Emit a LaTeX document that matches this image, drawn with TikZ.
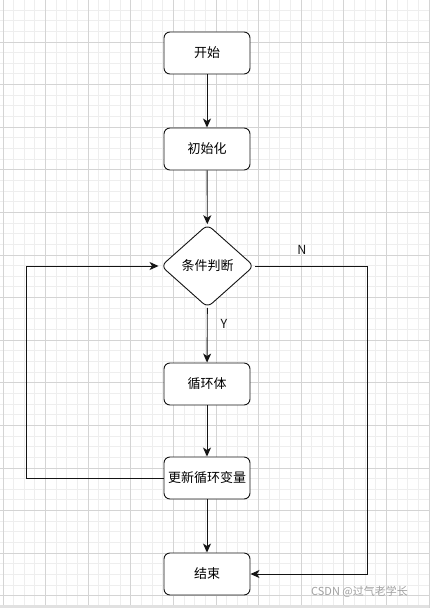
\documentclass[tikz,border=0pt]{standalone}
\usepackage{fontspec}
\setmainfont{Noto Sans CJK SC}
\usetikzlibrary{shapes.geometric,arrows.meta}
\definecolor{minorgrid}{RGB}{238,238,238}
\definecolor{majorgrid}{RGB}{212,212,212}
\definecolor{linecol}{RGB}{20,20,20}
\definecolor{wmcol}{RGB}{160,160,160}
\begin{document}
\begin{tikzpicture}[x=1pt,y=-1pt,
  box/.style={draw=linecol, line width=0.9pt, fill=white, rounded corners=6pt,
    minimum width=86pt, minimum height=42pt, inner sep=0pt,
    font=\fontsize{13}{13}\selectfont},
  decision/.style={diamond, draw=linecol, line width=0.9pt, fill=white, rounded corners=6pt,
    minimum width=93pt, minimum height=83pt, inner sep=0pt, aspect=1.13,
    font=\fontsize{13}{13}\selectfont},
  arr/.style={draw=linecol, line width=0.9pt, -{Stealth[length=9pt,width=8pt,inset=2.5pt]}},
  lbl/.style={font=\fontsize{12.5}{12.5}\selectfont, text=linecol},
  minorline/.style={draw=minorgrid, line width=1pt},
  majorline/.style={draw=majorgrid, line width=0.9pt}]
\useasboundingbox (0,0) rectangle (429,608);
\fill[white] (0,0) rectangle (429,608);
% grid
\foreach \i in {0,...,40} { \draw[minorline] ({3+10.65*\i},0) -- ({3+10.65*\i},608); }
\foreach \j in {0,...,58} { \draw[minorline] (0,{-0.6+10.65*\j}) -- (429,{-0.6+10.65*\j}); }
\foreach \i in {0,...,10} { \draw[majorline] ({3+42.6*\i},0) -- ({3+42.6*\i},608); }
\foreach \j in {0,...,14} { \draw[majorline] (0,{-0.6+42.6*\j}) -- (429,{-0.6+42.6*\j}); }
\fill[majorgrid!70] (0,605) rectangle (429,608);
% nodes
\node[box] (start) at (207,53) {开始};
\node[box] (init) at (207,149) {初始化};
\node[decision] (cond) at (207.5,266) {条件判断};
\node[box] (body) at (207,384) {循环体};
\node[box] (upd) at (207,478) {更新循环变量};
\node[box] (end) at (207,574) {结束};
\node[lbl] (ylab) at (224,324) {Y};
\node[lbl] (nlab) at (302,250) {N};
\coordinate (lb) at (26.5,478);
\coordinate (lt) at (26.5,266);
\coordinate (rt) at (367,266);
\coordinate (rb) at (367,574);
% connectors
\draw[arr] (start) -- (init);
\draw[arr] (init) -- (cond);
\draw[arr] (cond) -- (body);
\draw[arr] (body) -- (upd);
\draw[arr] (upd) -- (end);
\draw[arr] (upd.west) -- (lb) -- (lt) -- ([xshift=-2pt]cond.west);
\draw[arr] ([xshift=1pt]cond.east) -- (rt) -- (rb) -- (end.east);
% watermark
\node[anchor=west, font=\fontsize{11}{11}\selectfont, text=wmcol, inner sep=0pt] (wm) at (311,592) {CSDN @过气老学长};
\end{tikzpicture}
\end{document}
